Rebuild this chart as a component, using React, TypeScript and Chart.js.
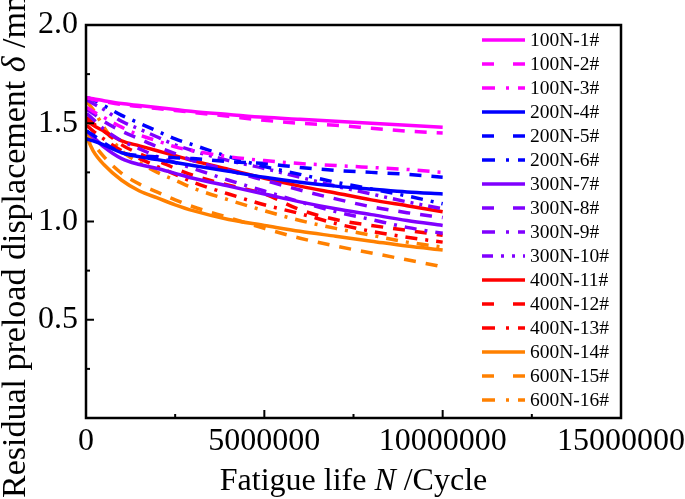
import React, { useEffect, useRef } from 'react';
import { Chart, registerables } from 'chart.js';
Chart.register(...registerables);

const FONT = "'Liberation Serif', 'Times New Roman', serif";

// Fatigue life N (cycles) at which values were read
const cycles = [20000, 200000, 500000, 1000000, 1500000, 2000000, 2500000, 3000000, 4000000, 5000000, 6000000, 7000000, 8000000, 9000000, 10000000];

const seriesNames = ['100N-1#', '100N-2#', '100N-3#', '200N-4#', '200N-5#', '200N-6#', '300N-7#', '300N-8#', '300N-9#', '300N-10#', '400N-11#', '400N-12#', '400N-13#', '600N-14#', '600N-15#', '600N-16#'];

const s100N1 = [1.63, 1.625, 1.615, 1.6, 1.59, 1.58, 1.57, 1.56, 1.545, 1.53, 1.52, 1.51, 1.5, 1.49, 1.48];
const s100N2 = [1.63, 1.62, 1.61, 1.595, 1.585, 1.575, 1.565, 1.555, 1.535, 1.515, 1.5, 1.49, 1.475, 1.46, 1.45];
const s100N3 = [1.58, 1.56, 1.53, 1.48, 1.44, 1.41, 1.38, 1.36, 1.33, 1.31, 1.295, 1.285, 1.275, 1.265, 1.25];
const s200N4 = [1.42, 1.41, 1.39, 1.35, 1.33, 1.315, 1.3, 1.285, 1.255, 1.225, 1.2, 1.18, 1.165, 1.15, 1.14];
const s200N5 = [1.46, 1.44, 1.4, 1.35, 1.335, 1.33, 1.325, 1.32, 1.305, 1.295, 1.275, 1.26, 1.25, 1.24, 1.225];
const s200N6 = [1.63, 1.62, 1.59, 1.54, 1.5, 1.46, 1.42, 1.39, 1.33, 1.28, 1.24, 1.2, 1.165, 1.13, 1.09];
const s300N7 = [1.46, 1.43, 1.38, 1.32, 1.29, 1.27, 1.245, 1.22, 1.18, 1.14, 1.1, 1.065, 1.035, 1.005, 0.98];
const s300N8 = [1.57, 1.55, 1.51, 1.46, 1.42, 1.38, 1.345, 1.31, 1.26, 1.21, 1.16, 1.115, 1.075, 1.045, 1.02];
const s300N9 = [1.55, 1.52, 1.47, 1.41, 1.37, 1.33, 1.3, 1.27, 1.21, 1.155, 1.1, 1.05, 1.01, 0.97, 0.94];
const s300N10 = [1.62, 1.6, 1.57, 1.51, 1.47, 1.43, 1.39, 1.36, 1.31, 1.27, 1.225, 1.18, 1.14, 1.1, 1.065];
const s400N11 = [1.51, 1.49, 1.46, 1.41, 1.385, 1.36, 1.335, 1.31, 1.265, 1.22, 1.18, 1.145, 1.11, 1.08, 1.05];
const s400N12 = [1.53, 1.5, 1.46, 1.39, 1.345, 1.31, 1.27, 1.235, 1.185, 1.14, 1.06, 1.01, 0.98, 0.955, 0.93];
const s400N13 = [1.49, 1.46, 1.42, 1.36, 1.32, 1.28, 1.24, 1.2, 1.14, 1.085, 1.04, 0.99, 0.95, 0.92, 0.895];
const s600N14 = [1.43, 1.36, 1.29, 1.21, 1.155, 1.12, 1.085, 1.055, 1.01, 0.98, 0.95, 0.925, 0.9, 0.875, 0.855];
const s600N15 = [1.46, 1.4, 1.33, 1.245, 1.19, 1.15, 1.11, 1.075, 1.02, 0.965, 0.915, 0.875, 0.84, 0.805, 0.77];
const s600N16 = [1.61, 1.57, 1.48, 1.36, 1.3, 1.25, 1.21, 1.17, 1.11, 1.055, 1.005, 0.965, 0.93, 0.895, 0.87];

const seriesValues = [s100N1, s100N2, s100N3, s200N4, s200N5, s200N6, s300N7, s300N8, s300N9, s300N10, s400N11, s400N12, s400N13, s600N14, s600N15, s600N16];

const MAGENTA = '#FF00FF';
const BLUE = '#0000FF';
const PURPLE = '#8000FF';
const RED = '#FF0000';
const ORANGE = '#FF8000';
const seriesColors = [MAGENTA, MAGENTA, MAGENTA, BLUE, BLUE, BLUE, PURPLE, PURPLE, PURPLE, PURPLE, RED, RED, RED, ORANGE, ORANGE, ORANGE];

const SOLID: number[] = [];
const DASH = [12, 10];
const DASHDOT = [12, 8, 3, 8];
const DASHDOTDOT = [12, 6, 3, 6, 3, 6];
const seriesDash = [SOLID, DASH, DASHDOT, SOLID, DASH, DASHDOT, SOLID, DASH, DASHDOT, DASHDOTDOT, SOLID, DASH, DASHDOT, SOLID, DASH, DASHDOT];
const legendDash = (d: number[]) => (d === DASH ? [12, 19] : d === DASHDOT ? [13, 11, 3, 9] : d === DASHDOTDOT ? [11, 8, 3, 8, 3, 8] : []);

const xTicks = [0, 5000000, 10000000, 15000000];
const xMinor = [2500000, 7500000, 12500000];
const yTicks = [0.5, 1.0, 1.5];
const yMinor = [0.25, 0.75, 1.25, 1.75];

const framePlugin = {
  id: 'frameLegendTitles',
  afterDatasetsDraw(chart: any) {
    const { ctx, chartArea: a, scales } = chart;
    const x = scales.x;
    const y = scales.y;
    ctx.save();
    ctx.strokeStyle = '#000';
    ctx.setLineDash([]);
    ctx.lineCap = 'butt';
    const seg = (x1: number, y1: number, x2: number, y2: number, w: number) => {
      ctx.lineWidth = w;
      ctx.beginPath();
      ctx.moveTo(x1, y1);
      ctx.lineTo(x2, y2);
      ctx.stroke();
    };
    xTicks.forEach((v) => { const p = x.getPixelForValue(v); seg(p, a.bottom, p, a.bottom - 8, 2); });
    xMinor.forEach((v) => { const p = x.getPixelForValue(v); seg(p, a.bottom, p, a.bottom - 4, 2); });
    yTicks.forEach((v) => { const p = y.getPixelForValue(v); seg(a.left, p, a.left + 8, p, 2); });
    yMinor.forEach((v) => { const p = y.getPixelForValue(v); seg(a.left, p, a.left + 4, p, 2); });
    ctx.lineWidth = 2.5;
    ctx.strokeRect(a.left, a.top, a.right - a.left, a.bottom - a.top);

    // legend inside plot area
    chart.data.datasets.forEach((ds: any, i: number) => {
      const yy = 40 + i * 24;
      ctx.strokeStyle = ds.borderColor;
      ctx.lineWidth = 3.5;
      ctx.setLineDash(legendDash(seriesDash[i]));
      ctx.beginPath();
      ctx.moveTo(482, yy);
      ctx.lineTo(525, yy);
      ctx.stroke();
      ctx.setLineDash([]);
      ctx.fillStyle = '#000';
      ctx.font = `19.5px ${FONT}`;
      ctx.textAlign = 'left';
      ctx.textBaseline = 'middle';
      ctx.fillText(ds.label, 530, yy + 1);
    });

    // axis titles with italic symbols
    const measure = (parts: [string, boolean][], size: number) => {
      let total = 0;
      const widths = parts.map(([t, it]) => {
        ctx.font = `${it ? 'italic ' : ''}${size}px ${FONT}`;
        const w = ctx.measureText(t).width;
        total += w;
        return w;
      });
      return { total, widths };
    };
    ctx.fillStyle = '#000';
    ctx.textBaseline = 'alphabetic';
    ctx.textAlign = 'left';
    const xParts: [string, boolean][] = [['Fatigue life ', false], ['N', true], [' /Cycle', false]];
    const xm = measure(xParts, 32);
    let cx = (a.left + a.right) / 2 - xm.total / 2;
    xParts.forEach(([t, it], i) => {
      ctx.font = `${it ? 'italic ' : ''}32px ${FONT}`;
      ctx.fillText(t, cx, 490);
      cx += xm.widths[i];
    });
    const yParts: [string, boolean][] = [['Residual preload displacement ', false], ['δ', true], [' /mm', false]];
    const ym = measure(yParts, 34);
    ctx.translate(25, 498);
    ctx.rotate(-Math.PI / 2);
    let cy = 0;
    yParts.forEach(([t, it], i) => {
      ctx.font = `${it ? 'italic ' : ''}34px ${FONT}`;
      ctx.fillText(t, cy, 0);
      cy += ym.widths[i];
    });
    ctx.restore();
  },
};

export default function App() {
  const ref = useRef<HTMLCanvasElement>(null);
  useEffect(() => {
    const datasets = seriesNames.map((name, i) => ({
      label: name,
      data: cycles.map((c, j) => ({ x: c, y: seriesValues[i][j] })),
      borderColor: seriesColors[i],
      backgroundColor: seriesColors[i],
      borderWidth: 3.5,
      borderDash: seriesDash[i],
      pointRadius: 0,
      fill: false,
      cubicInterpolationMode: 'monotone' as const,
    }));
    const chart = new Chart(ref.current!, {
      type: 'line',
      data: { datasets },
      plugins: [framePlugin],
      options: {
        animation: false,
        responsive: true,
        maintainAspectRatio: false,
        layout: { padding: { top: 25, right: 64, left: 0, bottom: 0 } },
        plugins: { legend: { display: false }, tooltip: { enabled: false } },
        scales: {
          x: {
            type: 'linear',
            min: 0,
            max: 15000000,
            grid: { display: false, drawTicks: false },
            border: { display: false },
            ticks: {
              stepSize: 5000000,
              autoSkip: false,
              maxRotation: 0,
              minRotation: 0,
              padding: 4,
              color: '#000',
              font: { family: FONT, size: 32 },
              callback: (v: any) => String(v),
            },
            afterFit: (s: any) => { s.height = 81; s.paddingLeft = 0; s.paddingRight = 0; },
          },
          y: {
            type: 'linear',
            min: 0,
            max: 2.0,
            grid: { display: false, drawTicks: false },
            border: { display: false },
            ticks: {
              stepSize: 0.5,
              padding: 8,
              color: '#000',
              font: { family: FONT, size: 32 },
              callback: (v: any) => (v === 0 ? '' : Number(v).toFixed(1)),
            },
            afterFit: (s: any) => { s.width = 86; s.paddingTop = 0; s.paddingBottom = 0; },
          },
        },
      },
    });
    return () => chart.destroy();
  }, []);
  return (
    <div style={{ position: 'fixed', left: 0, top: 0, width: 685, height: 499, background: '#fff' }}>
      <canvas ref={ref} />
    </div>
  );
}
